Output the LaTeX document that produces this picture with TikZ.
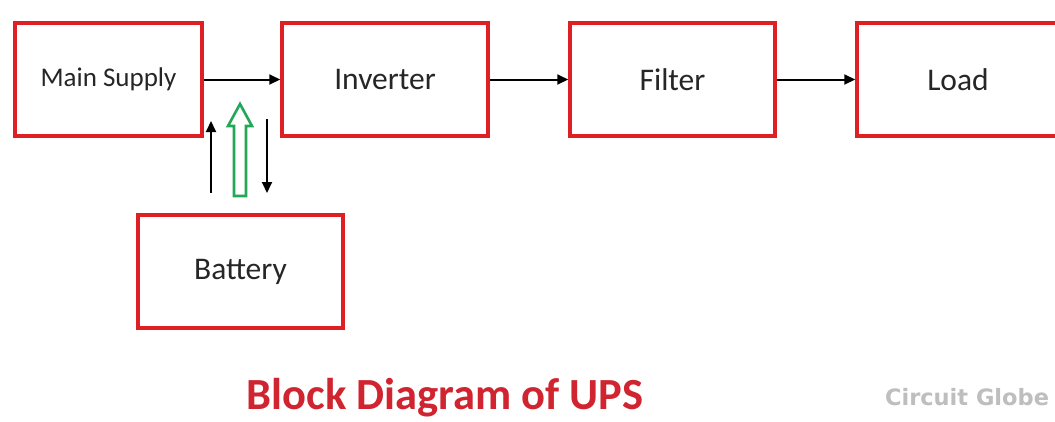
\documentclass[tikz,border=0pt]{standalone}
\usepackage{fontspec}
\setmainfont{Carlito}
\newfontfamily\wmfont{DejaVu Sans}
\usetikzlibrary{arrows.meta}
\definecolor{boxred}{RGB}{222,32,36}
\definecolor{titlered}{RGB}{208,36,48}
\definecolor{arrgreen}{RGB}{36,168,88}
\definecolor{wmgray}{RGB}{190,190,190}
\tikzset{
  blk/.style={draw=boxred, line width=3.5pt, fill=white, minimum height=113pt, inner sep=0pt, font=\fontsize{31.5}{36}\selectfont, text=black!85},
  flow/.style={line width=2pt, draw=black, -{Triangle[length=11pt,width=10pt]}},
}
\begin{document}
\begin{tikzpicture}[x=1pt,y=-1pt]
\useasboundingbox (0,0) rectangle (1055,421);
\clip (0,0) rectangle (1055,421);
\fill[white] (0,0) rectangle (1055,421);
\node[blk, minimum width=187pt, font=\fontsize{27}{32}\selectfont] (main) at (108.5,79.5) {Main Supply};
\node[blk, minimum width=206pt] (inv) at (385,79.5) {Inverter};
\node[blk, minimum width=205pt] (fil) at (672.5,79.5) {Filter};
\node[blk, minimum width=202pt] (load) at (958,79.5) {Load};
\node[blk, minimum width=205pt] (bat) at (240.5,271.5) {Battery};
\draw[flow] (main.east) -- (inv.west);
\draw[flow] (inv.east) -- (fil.west);
\draw[flow] (fil.east) -- (load.west);
\coordinate (u1) at (211,193);
\coordinate (u2) at (211,121);
\coordinate (d1) at (267,119);
\coordinate (d2) at (267,193);
\coordinate (g) at (240,196);
\draw[flow] (u1) -- (u2);
\draw[flow] (d1) -- (d2);
\draw[arrgreen, line width=2.6pt, line join=miter] (g) ++(-6,0) -- ++(0,-70) -- ++(-6,0) -- ++(12,-22) -- ++(12,22) -- ++(-6,0) -- ++(0,70) -- cycle;
\node[font=\bfseries\fontsize{44.5}{50}\selectfont, text=titlered] (title) at (445,398) {Block Diagram of UPS};
\node[font=\wmfont\bfseries\fontsize{22.5}{26}\selectfont, text=wmgray] (wm) at (967,397) {Circuit Globe};
\end{tikzpicture}
\end{document}
